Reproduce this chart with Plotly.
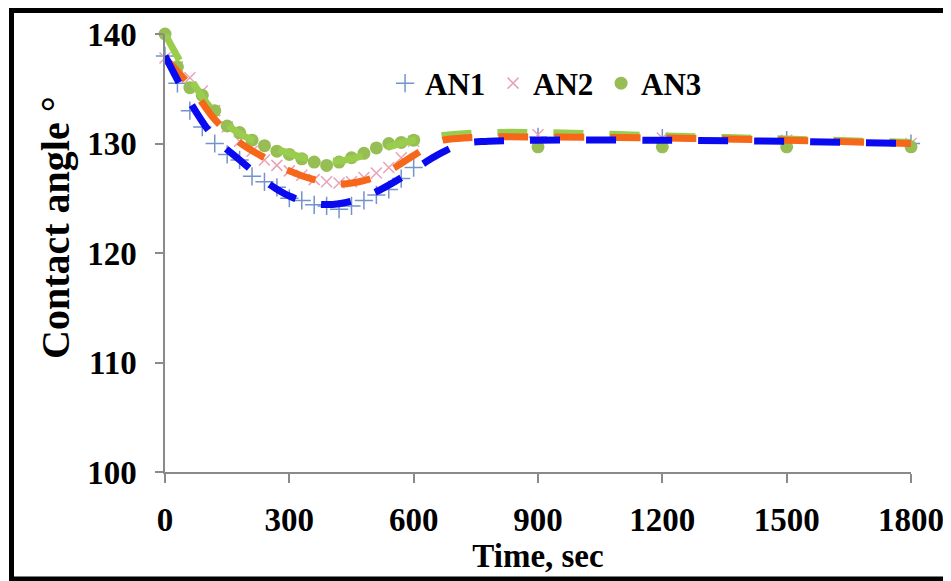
import plotly.graph_objects as go

# Measured data (time, sec)
time_s = [0, 30, 60, 90, 120, 150, 180, 210, 240, 270, 300, 330, 360, 390, 420,
          450, 480, 510, 540, 570, 600, 900, 1200, 1500, 1800]
an1 = [138, 135.5, 133, 131.5, 130, 129, 128.5, 127, 126.5, 126, 125, 124.8, 124.4,
       124.3, 124, 124.3, 124.8, 125.3, 125.8, 126.8, 127.8, 130.6, 130.5, 130.3, 130.0]
an2 = [137.8, 137, 136, 134.8, 133, 131.5, 130.2, 129.3, 128.5, 128, 127.5, 127.1, 126.7,
       126.5, 126.4, 126.5, 126.9, 127.3, 127.8, 128.7, 130.2, 130.8, 130.5, 130.3, 130.0]
an3 = [140, 137, 135.1, 134.4, 133, 131.6, 131, 130.3, 129.8, 129.3, 129, 128.6, 128.3,
       128, 128.3, 128.7, 129.1, 129.6, 130, 130.1, 130.3, 129.7, 129.7, 129.7, 129.7]

# Trend lines
trend_t = [0, 60, 120, 180, 240, 300, 360, 420, 480, 540, 600, 660, 720, 780, 900, 1200, 1500, 1800]
trend_an1 = [138, 133.8, 130.5, 128.5, 126.6, 125.2, 124.5, 124.5, 125.1, 126.2, 127.6,
             129.0, 130.0, 130.2, 130.3, 130.3, 130.2, 130.0]
trend_an2 = [137.8, 135.3, 132.2, 130.1, 128.7, 127.5, 126.7, 126.3, 126.6, 127.5, 128.9,
             130.2, 130.5, 130.6, 130.6, 130.5, 130.3, 130.0]
trend_an3 = [140, 136, 132.8, 130.9, 129.9, 129.1, 128.5, 128.4, 128.9, 129.7, 130.3,
             130.7, 130.9, 131.0, 131.0, 130.7, 130.4, 130.1]

x_ticks = [0, 300, 600, 900, 1200, 1500, 1800]
y_ticks = [100, 110, 120, 130, 140]

FONT = "Liberation Serif"

# plot area in figure coordinates
L, R, T, B = 157, 48, 26, 117
PW = 951 - L - R
PH = 581 - T - B
PB = 581 - B

fig = go.Figure()

fig.add_trace(go.Scatter(x=time_s, y=an1, mode="markers", name="<b>AN1</b>",
                         marker=dict(symbol="cross-thin", size=13,
                                     line=dict(color="#7393CC", width=1.5)),
                         cliponaxis=False))
fig.add_trace(go.Scatter(x=time_s, y=an2, mode="markers", name="<b>AN2</b>",
                         marker=dict(symbol="x-thin", size=11,
                                     line=dict(color="#E6A3B6", width=1.5)),
                         cliponaxis=False))
fig.add_trace(go.Scatter(x=time_s, y=an3, mode="markers", name="<b>AN3</b>",
                         marker=dict(symbol="circle", size=13, color="#96BE55"),
                         cliponaxis=False))

fig.add_trace(go.Scatter(x=trend_t, y=trend_an3, mode="lines", showlegend=False,
                         line=dict(color="#9ACD4E", width=7, dash="30px,26px", shape="spline"),
                         cliponaxis=False))
fig.add_trace(go.Scatter(x=trend_t, y=trend_an2, mode="lines", showlegend=False,
                         line=dict(color="#F7671A", width=7, dash="30px,26px", shape="spline"),
                         cliponaxis=False))
fig.add_trace(go.Scatter(x=trend_t, y=trend_an1, mode="lines", showlegend=False,
                         line=dict(color="#0A0AF0", width=7, dash="30px,26px", shape="spline"),
                         cliponaxis=False))

fig.update_layout(
    width=951, height=581,
    margin=dict(l=L, r=R, t=T, b=B),
    paper_bgcolor="white", plot_bgcolor="white",
    font=dict(family=FONT, size=28, color="black"),
    legend=dict(orientation="h", x=0.295, y=0.887, xanchor="left", yanchor="middle",
                bgcolor="rgba(0,0,0,0)", font=dict(family=FONT, size=31, color="black"),
                itemwidth=30, entrywidth=63),
    xaxis=dict(range=[0, 1800], tickmode="array", tickvals=x_ticks,
               ticktext=[f"<b>{v}</b>" for v in x_ticks], automargin=False,
               showgrid=False, zeroline=False, showline=True, linecolor="#8A8A8A", linewidth=1.5,
               ticks="outside", ticklen=9, tickcolor="#8A8A8A", tickwidth=1.5,
               tickfont=dict(family=FONT, size=33, color="black"), ticklabelstandoff=9,
               title=dict(text="<b>Time, sec</b>", font=dict(family=FONT, size=33), standoff=3)),
    yaxis=dict(range=[100, 140], tickmode="array", tickvals=y_ticks,
               ticktext=[f"<b>{v}</b>" for v in y_ticks], automargin=False,
               showgrid=False, zeroline=False, showline=True, linecolor="#8A8A8A", linewidth=1.5,
               ticks="outside", ticklen=8, tickcolor="#8A8A8A", tickwidth=1.5,
               tickfont=dict(family=FONT, size=33, color="black"), ticklabelstandoff=12),
    annotations=[dict(text="<b>Contact angle °</b>", textangle=-90, showarrow=False,
                      xref="paper", yref="paper",
                      x=(47 - L) / PW, y=(PB - 220) / PH,
                      xanchor="center", yanchor="middle",
                      font=dict(family=FONT, size=40, color="black"))],
    shapes=[dict(type="rect", xref="paper", yref="paper",
                 x0=(3.5 - L) / PW, x1=(960 - L) / PW,
                 y0=(PB - 571) / PH, y1=(PB - 2.5) / PH,
                 line=dict(color="black", width=5), fillcolor="rgba(0,0,0,0)", layer="above")],
)

fig.write_html("out.html")
